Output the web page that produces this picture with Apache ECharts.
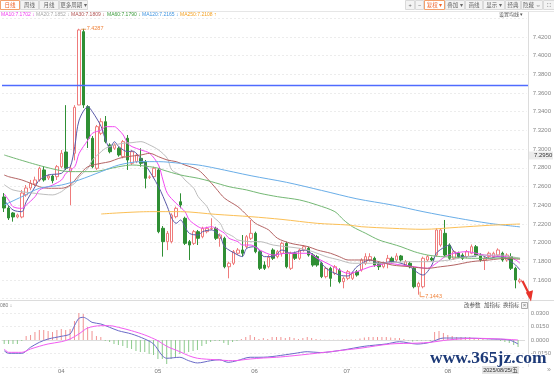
<!DOCTYPE html>
<html><head><meta charset="utf-8">
<script src="https://cdn.jsdelivr.net/npm/echarts@6/dist/echarts.min.js"></script>
<style>html,body{margin:0;padding:0;background:#fff;}#c{width:554px;height:374px;}</style>
</head><body><div id="c"></div>
<script>
// ---- trading days (category axis) ----
const marDays=[13,14,17,18,19,20,21,24,25,26,27,28,31];
const aprDays=[1,2,3,4,7,8,9,10,11,14,15,16,17,18,21,22,23,24,25,28,29,30];
const mayDays=[1,2,5,6,7,8,9,12,13,14,15,16,19,20,21,22,23,26,27,28,29,30];
const junDays=[2,3,4,5,6,9,10,11,12,13,16,17,18,19,20,23,24,25,26,27,30];
const julDays=[1,2,3,4,7,8,9,10,11,14,15,16,17,18,21,22,23,24,25,28,29,30,31];
const augDays=[1,4,5,6,7,8,11,12,13,14,15,18,19,20,21,22,25];

// ---- candles: [open, close, low, high] ----
const candleOHLC=[
[7.2488,7.2370,7.2327,7.2530],[7.2370,7.2263,7.2242,7.2390],[7.2317,7.2274,7.2224,7.2326],[7.2274,7.2295,7.2260,7.2310],[7.2274,7.2530,7.2260,7.2563],
[7.2510,7.2584,7.2490,7.2616],[7.2584,7.2634,7.2560,7.2670],[7.2627,7.2670,7.2605,7.2705],[7.2670,7.2795,7.2652,7.2812],[7.2777,7.2670,7.2652,7.2819],
[7.2691,7.2712,7.2670,7.2730],[7.2712,7.2662,7.2634,7.2723],[7.2705,7.2812,7.2670,7.2830],[7.2812,7.2955,7.2795,7.2990],[7.2969,7.2795,7.2777,7.3470],
[7.2758,7.2795,7.2400,7.2830],[7.2955,7.3447,7.2880,7.3470],[7.3472,7.4274,7.3470,7.4287],[7.4256,7.3472,7.3440,7.4287],[7.3454,7.3116,7.3012,7.3470],
[7.3116,7.2812,7.2795,7.3140],[7.2795,7.3240,7.2777,7.3258],[7.3169,7.3293,7.3150,7.3330],[7.3293,7.3080,7.3062,7.3354],[7.3044,7.2972,7.2955,7.3062],
[7.3009,7.3044,7.2991,7.3062],[7.3009,7.2937,7.2919,7.3026],[7.2919,7.3080,7.2901,7.3097],[7.3116,7.2883,7.2777,7.3151],[7.2848,7.2972,7.2830,7.2990],
[7.2866,7.2937,7.2850,7.2955],[7.2901,7.2848,7.2812,7.3009],[7.2866,7.2688,7.2580,7.2883],[7.2698,7.2702,7.2680,7.2720],[7.2705,7.2795,7.2688,7.2812],
[7.2777,7.2117,7.2100,7.2795],[7.2153,7.2010,7.1850,7.2177],[7.2010,7.2099,7.1920,7.2124],[7.2010,7.2295,7.1992,7.2313],[7.2277,7.2367,7.2260,7.2385],
[7.2437,7.2402,7.2367,7.2527],[7.2260,7.1992,7.1974,7.2277],[7.2010,7.1974,7.1814,7.2028],[7.1992,7.2117,7.1974,7.2135],[7.2117,7.2046,7.1974,7.2135],
[7.2063,7.2153,7.2046,7.2170],[7.2117,7.2153,7.2099,7.2170],[7.2147,7.2151,7.2135,7.2260],[7.2153,7.2046,7.2028,7.2170],[7.2046,7.2081,7.1956,7.2099],
[7.2046,7.1742,7.1725,7.2063],[7.1742,7.1779,7.1618,7.1796],[7.1779,7.1903,7.1760,7.1921],[7.1886,7.1921,7.1868,7.1942],[7.1921,7.1886,7.1850,7.2081],
[7.1956,7.2063,7.1939,7.2081],[7.2046,7.2099,7.2028,7.2242],[7.2099,7.1903,7.1886,7.2117],[7.1903,7.1725,7.1707,7.1921],[7.1760,7.1725,7.1707,7.1800],
[7.1742,7.1843,7.1725,7.1868],[7.1921,7.1832,7.1814,7.1939],[7.1850,7.1903,7.1832,7.1921],[7.1886,7.1992,7.1850,7.2010],[7.1992,7.1742,7.1725,7.2010],
[7.1725,7.1886,7.1707,7.1903],[7.1886,7.1832,7.1814,7.1903],[7.1832,7.1921,7.1814,7.1939],[7.1921,7.1956,7.1903,7.1974],[7.1939,7.1867,7.1850,7.1956],
[7.1867,7.1760,7.1742,7.1886],[7.1850,7.1760,7.1742,7.1868],[7.1779,7.1636,7.1620,7.1796],[7.1636,7.1725,7.1618,7.1742],[7.1725,7.1618,7.1528,7.1742],
[7.1671,7.1742,7.1653,7.1760],[7.1707,7.1582,7.1564,7.1725],[7.1582,7.1618,7.1511,7.1636],[7.1618,7.1689,7.1600,7.1707],[7.1618,7.1671,7.1600,7.1689],
[7.1689,7.1653,7.1636,7.1707],[7.1707,7.1814,7.1689,7.1832],[7.1779,7.1850,7.1760,7.1886],[7.1814,7.1850,7.1796,7.1886],[7.1832,7.1760,7.1742,7.1850],
[7.1779,7.1742,7.1707,7.1796],[7.1742,7.1779,7.1725,7.1796],[7.1779,7.1832,7.1725,7.1868],[7.1832,7.1796,7.1779,7.1850],[7.1814,7.1857,7.1796,7.1886],
[7.1857,7.1814,7.1796,7.1868],[7.1760,7.1796,7.1742,7.1814],[7.1779,7.1742,7.1725,7.1796],[7.1725,7.1528,7.1511,7.1742],[7.1528,7.1564,7.1443,7.1582],
[7.1528,7.1832,7.1511,7.1850],[7.1814,7.1850,7.1796,7.1868],[7.1832,7.1814,7.1800,7.1850],[7.1867,7.2135,7.1850,7.2153],[7.1974,7.2135,7.1956,7.2153],
[7.2099,7.1867,7.1850,7.2242],[7.1974,7.1832,7.1814,7.1992],[7.1832,7.1903,7.1814,7.1921],[7.1886,7.1850,7.1832,7.1903],[7.1867,7.1832,7.1814,7.1886],
[7.1850,7.1903,7.1832,7.1921],[7.1886,7.1956,7.1876,7.1980],[7.1956,7.1867,7.1850,7.1974],[7.1867,7.1814,7.1796,7.1886],[7.1814,7.1832,7.1707,7.1850],
[7.1850,7.1886,7.1832,7.1903],[7.1850,7.1886,7.1832,7.1903],[7.1867,7.1921,7.1850,7.1939],[7.1886,7.1814,7.1796,7.1903],[7.1814,7.1867,7.1796,7.1886],
[7.1850,7.1725,7.1707,7.1886],[7.1725,7.1600,7.1511,7.1742],[7.1582,7.1600,7.1564,7.1618]
];

// ---- moving averages: [dayIndex, value] ----
const ma5Knots=[[0,7.2454],[2,7.2349],[4,7.2331],[5,7.2437],[7,7.2598],[8,7.2670],[10,7.2723],[13,7.2741],[14,7.2795],[15,7.2812],[16,7.3026],[17,7.3311],[19,7.3453],[20,7.3400],[22,7.3240],[23,7.3097],[24,7.3009],[25,7.3079],[26,7.3026],[28,7.2972],[29,7.2980],[32,7.2830],[35,7.2598],[37,7.2384],[38,7.2260],[39,7.2206],[40,7.2242],[41,7.2170],[42,7.2099],[44,7.2081],[45,7.2117],[47,7.2135],[49,7.2063],[50,7.1956],[53,7.1867],[54,7.1850],[55,7.1939],[57,7.1956],[59,7.1850],[61,7.1850],[63,7.1921],[65,7.1886],[68,7.1921],[71,7.1832],[73,7.1725],[76,7.1653],[78,7.1643],[80,7.1742],[83,7.1814],[85,7.1779],[88,7.1796],[90,7.1779],[92,7.1742],[94,7.1671],[95,7.1653],[97,7.1760],[98,7.1886],[100,7.1956],[101,7.1974],[102,7.1903],[104,7.1850],[106,7.1850],[108,7.1867],[110,7.1832],[112,7.1850],[114,7.1830],[115,7.1796],[116,7.1760],[117,7.1707]];
const ma10Knots=[[0,7.2520],[1,7.2456],[2,7.2384],[4,7.2366],[5,7.2402],[7,7.2491],[8,7.2563],[10,7.2598],[11,7.2616],[13,7.2670],[14,7.2741],[16,7.2812],[17,7.2955],[19,7.3097],[20,7.3169],[22,7.3204],[23,7.3240],[25,7.3240],[26,7.3204],[27,7.3151],[28,7.3062],[29,7.3026],[31,7.2991],[33,7.2955],[35,7.2830],[36,7.2670],[37,7.2527],[39,7.2420],[41,7.2331],[42,7.2242],[44,7.2170],[45,7.2153],[47,7.2170],[48,7.2153],[50,7.2099],[51,7.2046],[53,7.2010],[54,7.1974],[56,7.1974],[58,7.1920],[61,7.1867],[64,7.1886],[67,7.1886],[69,7.1886],[71,7.1832],[74,7.1760],[76,7.1707],[78,7.1671],[80,7.1689],[83,7.1742],[85,7.1760],[87,7.1779],[90,7.1760],[93,7.1742],[96,7.1725],[98,7.1779],[100,7.1850],[102,7.1886],[105,7.1903],[107,7.1886],[109,7.1867],[111,7.1857],[114,7.1850],[116,7.1814],[117,7.1779]];
const ma20Knots=[[0,7.2620],[2,7.2563],[7,7.2527],[11,7.2510],[13,7.2545],[14,7.2581],[16,7.2634],[17,7.2705],[19,7.2795],[20,7.2883],[22,7.2972],[23,7.3009],[25,7.3044],[27,7.3062],[29,7.3069],[31,7.3080],[33,7.3044],[35,7.2991],[37,7.2901],[38,7.2777],[40,7.2723],[41,7.2670],[43,7.2581],[44,7.2491],[46,7.2384],[47,7.2295],[49,7.2206],[50,7.2117],[52,7.2063],[53,7.2028],[56,7.2010],[58,7.2010],[61,7.1974],[64,7.1956],[67,7.1939],[70,7.1903],[73,7.1850],[76,7.1814],[79,7.1779],[82,7.1779],[85,7.1779],[88,7.1786],[92,7.1796],[96,7.1796],[101,7.1814],[105,7.1850],[110,7.1867],[113,7.1867],[115,7.1850],[117,7.1832]];
const ma30Knots=[[0,7.2723],[1,7.2705],[4,7.2670],[6,7.2634],[8,7.2598],[10,7.2581],[13,7.2581],[15,7.2616],[17,7.2723],[19,7.2812],[22,7.2848],[24,7.2866],[26,7.2901],[28,7.2920],[31,7.2937],[33,7.2955],[35,7.2919],[37,7.2883],[39,7.2866],[41,7.2830],[44,7.2777],[46,7.2688],[48,7.2581],[50,7.2474],[53,7.2384],[55,7.2295],[57,7.2206],[59,7.2160],[60,7.2135],[62,7.2046],[65,7.1992],[67,7.1974],[69,7.1956],[71,7.1921],[74,7.1886],[76,7.1850],[78,7.1814],[81,7.1814],[83,7.1814],[85,7.1796],[88,7.1760],[92,7.1742],[96,7.1725],[99,7.1742],[102,7.1760],[106,7.1796],[110,7.1814],[114,7.1832],[117,7.1821]];
const ma60Knots=[[0,7.2937],[9,7.2812],[15,7.2759],[20,7.2759],[26,7.2812],[29,7.2830],[33,7.2812],[35,7.2795],[36,7.2777],[40,7.2723],[44,7.2688],[47,7.2652],[51,7.2598],[55,7.2563],[58,7.2527],[62,7.2491],[67,7.2456],[71,7.2402],[75,7.2331],[77,7.2242],[79,7.2170],[82,7.2099],[85,7.2028],[88,7.1985],[90,7.1956],[93,7.1903],[96,7.1867],[99,7.1850],[102,7.1845],[106,7.1832],[110,7.1832],[114,7.1838],[117,7.1832]];
const ma120Knots=[[0,7.2402],[4,7.2491],[8,7.2581],[13,7.2616],[17,7.2670],[22,7.2759],[26,7.2830],[31,7.2866],[35,7.2866],[40,7.2848],[44,7.2830],[48,7.2795],[56,7.2715],[64,7.2645],[72,7.2558],[80,7.2468],[88,7.2402],[95,7.2331],[103,7.2260],[110,7.2206],[117,7.2168]];
const ma250Knots=[[22,7.2306],[33,7.2331],[40,7.2331],[48,7.2302],[56,7.2277],[63,7.2248],[71,7.2206],[78,7.2188],[81,7.2170],[88,7.2153],[95,7.2142],[103,7.2164],[110,7.2185],[117,7.2199]];
const drawnLevel=7.3686;

// ---- MACD ----
const macdHist=[
-0.0044,-0.0044,-0.0044,-0.0044,-0.0011,0.0044,0.0056,0.0089,0.0111,0.0111,
0.0100,0.0089,0.0111,0.0122,0.0111,0.0122,0.0211,0.0300,0.0289,0.0144,
0.0100,0.0044,0.0033,-0.0011,-0.0022,-0.0044,-0.0056,-0.0067,-0.0089,-0.0100,
-0.0122,-0.0133,-0.0133,-0.0156,-0.0167,-0.0211,-0.0211,-0.0267,-0.0211,-0.0189,
-0.0156,-0.0144,-0.0133,-0.0122,-0.0111,-0.0067,-0.0044,-0.0022,-0.0011,-0.0011,
-0.0033,-0.0056,-0.0022,-0.0011,0.0011,0.0033,0.0056,0.0033,0.0011,0.0022,
0.0011,0.0033,0.0033,0.0033,0.0022,0.0033,0.0022,0.0011,0.0022,0.0033,
0.0022,0.0011,0.0006,0.0004,0.0004,0.0004,0.0004,0.0006,0.0006,0.0006,
0.0006,0.0017,0.0028,0.0033,0.0033,0.0033,0.0033,0.0033,0.0028,0.0022,
0.0022,0.0011,-0.0006,-0.0017,-0.0011,-0.0006,-0.0006,-0.0011,0.0089,0.0100,
0.0078,0.0056,0.0044,0.0033,0.0033,0.0033,0.0033,0.0022,0.0011,0.0011,
0.0006,0.0006,0.0006,-0.0011,-0.0022,-0.0033,-0.0056,-0.0078];
const difKnots=[[0,-0.0119],[1,-0.0148],[4,-0.0148],[6,-0.0081],[8,-0.0026],[10,0.0011],[13,0.0041],[15,0.0067],[16,0.0159],[17,0.0240],[18,0.0252],[19,0.0230],[20,0.0196],[22,0.0178],[24,0.0141],[26,0.0103],[29,0.0067],[32,0.0011],[34,-0.0044],[36,-0.0174],[37,-0.0203],[40,-0.0192],[42,-0.0230],[44,-0.0255],[47,-0.0230],[49,-0.0219],[51,-0.0248],[53,-0.0230],[56,-0.0192],[58,-0.0192],[60,-0.0189],[62,-0.0178],[66,-0.0150],[69,-0.0130],[72,-0.0140],[77,-0.0112],[82,-0.0070],[87,-0.0044],[90,-0.0019],[94,-0.0045],[97,-0.0026],[100,0.0022],[103,0.0022],[107,0.0019],[111,0.0011],[115,0.0000],[117,-0.0044]];
const deaKnots=[[0,-0.0100],[1,-0.0137],[4,-0.0137],[6,-0.0100],[8,-0.0070],[10,-0.0044],[13,-0.0019],[15,0.0011],[17,0.0067],[19,0.0133],[22,0.0159],[24,0.0159],[26,0.0141],[29,0.0103],[32,0.0056],[35,-0.0008],[37,-0.0070],[40,-0.0130],[42,-0.0174],[44,-0.0203],[48,-0.0219],[52,-0.0230],[56,-0.0211],[59,-0.0200],[62,-0.0192],[66,-0.0174],[73,-0.0137],[77,-0.0114],[81,-0.0092],[88,-0.0044],[94,-0.0035],[97,-0.0026],[101,0.0000],[107,0.0019],[113,0.0011],[117,0.0000]];

// ---- text ----
const maLegend=[
 {t:'MA10:7.1702 ↓',c:'#f03cf0',x:1},{t:'MA20:7.1852 ↓',c:'#a8a8a8',x:36},{t:'MA30:7.1809 ↓',c:'#b05050',x:71},
 {t:'MA60:7.1790 ↓',c:'#3a9a3a',x:107},{t:'MA120:7.2165 ↓',c:'#3f94e0',x:142},{t:'MA250:7.2108 ↑',c:'#f4a020',x:180}];
const leftTabs=[{t:'日线',x:0,w:19,on:true},{t:'周线',x:20,w:18},{t:'月线',x:39,w:19},{t:'更多周期 ▾',x:59,w:28}];
const rightTools=[{t:'+',x:405,w:9},{t:'−',x:415,w:8},{t:'复权 ▾',x:424,w:20,on:true},{t:'叠加 ▾',x:445,w:19},{t:'画线',x:465,w:17},{t:'显示 ▾',x:483,w:21},{t:'经典',x:505,w:15},{t:'隐藏 ⇔',x:521,w:21},{t:'⛶',x:543,w:11}];
const subTools=[{t:'改参数',x:464},{t:'加指标',x:484},{t:'换指标',x:503}];

const monthsDays=[['03',marDays],['04',aprDays],['05',mayDays],['06',junDays],['07',julDays],['08',augDays]];
const categories=[];const monthStart={};
monthsDays.forEach(([m,ds])=>ds.forEach((d,k)=>{ if(k===0&&m!=='03') monthStart[categories.length]=m; categories.push('2025/'+m+'/'+String(d).padStart(2,'0'));}));
categories.push('');

const FF='"Liberation Sans","Noto Sans CJK SC",sans-serif';
const chart=echarts.init(document.getElementById('c'),null,{renderer:'canvas'});
const maLine=(name,data,color)=>({name,type:'line',xAxisIndex:0,yAxisIndex:0,data,showSymbol:false,smooth:0.3,
  lineStyle:{color,width:1},itemStyle:{color},silent:true,z:3});

const g=[];
// toolbar
leftTabs.forEach(o=>{g.push({type:'rect',shape:{x:o.x+0.5,y:0.5,width:o.w,height:9},style:{fill:o.on?'#fff':'#f3f3f3',stroke:o.on?'#f2a06c':'#dadada',lineWidth:1}});
 g.push({type:'text',x:o.x+0.5+o.w/2,y:5,style:{text:o.t,fill:o.on?'#f0642a':'#666',font:'5.5px '+FF,align:'center',verticalAlign:'middle'}});});
rightTools.forEach(o=>{g.push({type:'rect',shape:{x:o.x+0.5,y:0.5,width:o.w,height:9},style:{fill:o.on?'#fff':'#f3f3f3',stroke:o.on?'#f2a06c':'#dadada',lineWidth:1}});
 g.push({type:'text',x:o.x+0.5+o.w/2,y:5,style:{text:o.t,fill:o.on?'#f0642a':'#666',font:'5.5px '+FF,align:'center',verticalAlign:'middle'}});});
g.push({type:'line',shape:{x1:0,y1:11.5,x2:554,y2:11.5},style:{stroke:'#e6e6e6',lineWidth:1}});
maLegend.forEach(o=>g.push({type:'text',x:o.x,y:15,style:{text:o.t,fill:o.c,font:'5px '+FF,verticalAlign:'middle'}}));
g.push({type:'text',x:499,y:15,style:{text:'设置均线 ▾',fill:'#555',font:'5px '+FF,verticalAlign:'middle'}});
// frame lines
g.push({type:'line',shape:{x1:528.5,y1:12,x2:528.5,y2:367},style:{stroke:'#dcdcdc',lineWidth:1}});
g.push({type:'line',shape:{x1:0,y1:300.5,x2:554,y2:300.5},style:{stroke:'#dcdcdc',lineWidth:1}});
// sub header
g.push({type:'text',x:0,y:305.5,style:{text:'080 ↓',fill:'#7a7a7a',font:'5px '+FF,verticalAlign:'middle'}});
subTools.forEach(o=>g.push({type:'text',x:o.x,y:305.5,style:{text:o.t,fill:'#555',font:'5.5px '+FF,verticalAlign:'middle'}}));
g.push({type:'rect',shape:{x:521.5,y:302.5,width:6,height:6},style:{fill:'#f5f5f5',stroke:'#aaa',lineWidth:1}});
g.push({type:'text',x:524.5,y:305.5,style:{text:'×',fill:'#777',font:'6px '+FF,align:'center',verticalAlign:'middle'}});
// crosshair labels
g.push({type:'rect',shape:{x:529,y:151.5,width:24,height:8},style:{fill:'#ececec'},z:50});
g.push({type:'text',x:534,y:155.5,style:{text:'7.2950',fill:'#333',font:'6px '+FF,verticalAlign:'middle'},z:51});
g.push({type:'rect',shape:{x:482,y:366,width:37,height:8},style:{fill:'#e4e4e4'},z:50});
g.push({type:'text',x:500.5,y:370,style:{text:'2025/08/25/五',fill:'#333',font:'5.5px '+FF,align:'center',verticalAlign:'middle'},z:51});
g.push({type:'text',x:549,y:370,style:{text:'»',fill:'#999',font:'7px '+FF,align:'center',verticalAlign:'middle'},z:51});
// arrow + watermark
g.push({type:'polyline',shape:{points:[[522.5,281],[529,294]]},style:{stroke:'#e8332a',lineWidth:2.2},z:60});
g.push({type:'polygon',shape:{points:[[525.8,292.5],[533,290.3],[531,301.5]]},style:{fill:'#e8332a'},z:60});
g.push({type:'text',x:430,y:367.5,style:{text:'www.365jz.com',fill:'#1d3a78',stroke:'#ffffff',lineWidth:2,font:'bold 17.5px "Liberation Serif",serif',verticalAlign:'bottom'},z:70});

const option={
 animation:false,backgroundColor:'#fff',
 grid:[{left:2,top:18.2,width:526,height:280.5},{left:2,top:313,width:526,height:54}],
 xAxis:[
  {type:'category',gridIndex:0,data:categories,boundaryGap:true,axisLine:{show:false},axisTick:{show:false},axisLabel:{show:false},splitLine:{show:false}},
  {type:'category',gridIndex:1,data:categories,boundaryGap:true,axisLine:{show:true,lineStyle:{color:'#dcdcdc'}},axisTick:{show:false},
   axisLabel:{interval:(i)=>monthStart[i]!==undefined,formatter:(v,i)=>monthStart[i]||'',fontSize:6,color:'#777',margin:1,fontFamily:FF},splitLine:{show:false}}],
 yAxis:[
  {type:'value',gridIndex:0,position:'right',min:7.14,max:7.44,interval:0.02,axisLine:{show:false},axisTick:{show:false},
   axisLabel:{fontSize:6,color:'#888',margin:6,fontFamily:FF,showMinLabel:false,showMaxLabel:false,formatter:v=>v.toFixed(4)},
   splitLine:{show:true,lineStyle:{color:'#ececec',type:[2,2],width:1}}},
  {type:'value',gridIndex:1,position:'right',min:-0.03,max:0.03,interval:0.015,axisLine:{show:false},axisTick:{show:false},
   axisLabel:{fontSize:6,color:'#888',margin:6,fontFamily:FF,showMinLabel:false,formatter:v=>v.toFixed(4)},
   splitLine:{show:true,lineStyle:{color:'#ececec',type:[2,2],width:1}}}],
 series:[
  {name:'K',type:'candlestick',xAxisIndex:0,yAxisIndex:0,data:candleOHLC,barWidth:3,silent:true,
   itemStyle:{color:'#ffffff',color0:'#2f8f34',borderColor:'#ef7b7b',borderColor0:'#2f8f34',borderWidth:1},z:2},
  maLine('MA5',ma5Knots,'#5a5aa8'),
  maLine('MA10',ma10Knots,'#f24af2'),
  maLine('MA20',ma20Knots,'#bdbdbd'),
  maLine('MA30',ma30Knots,'#b46464'),
  maLine('MA60',ma60Knots,'#74b874'),
  maLine('MA120',ma120Knots,'#6aaee8'),
  maLine('MA250',ma250Knots,'#fbbf55'),
  {name:'MACD',type:'bar',xAxisIndex:1,yAxisIndex:1,data:macdHist,barWidth:1,silent:true,
   itemStyle:{color:p=>p.value>=0?'#f19393':'#8cca8c'}},
  {name:'DIF',type:'line',xAxisIndex:1,yAxisIndex:1,data:difKnots,showSymbol:false,smooth:0.3,lineStyle:{color:'#6a6ac8',width:1},silent:true},
  {name:'DEA',type:'line',xAxisIndex:1,yAxisIndex:1,data:deaKnots,showSymbol:false,smooth:0.3,lineStyle:{color:'#f25cf2',width:1},silent:true}
 ],
 graphic:{elements:g}
};
chart.setOption(option);

// annotations placed from the data through the axes
let hi=0,lo=0;
candleOHLC.forEach((d,i)=>{ if(d[3]>candleOHLC[hi][3]) hi=i; if(d[2]<candleOHLC[lo][2]) lo=i; });
const pH=chart.convertToPixel({gridIndex:0},[hi,candleOHLC[hi][3]]);
const pL=chart.convertToPixel({gridIndex:0},[lo,candleOHLC[lo][2]]);
const yLevel=Math.round(chart.convertToPixel({yAxisIndex:0},drawnLevel));
g.push({type:'rect',shape:{x:2,y:yLevel-0.25,width:526,height:1.5},style:{fill:'#4f6bff'},z:5});
const oc='#f0843c';
g.push({type:'polyline',shape:{points:[[pH[0]+2,pH[1]+0.5],[pH[0]+7,pH[1]+0.5]]},style:{stroke:oc,lineWidth:0.8},z:40});
g.push({type:'text',x:pH[0]+7.5,y:pH[1],style:{text:candleOHLC[hi][3].toFixed(4),fill:oc,font:'5.5px '+FF,verticalAlign:'middle'},z:40});
g.push({type:'polyline',shape:{points:[[pL[0]+1.5,pL[1]-3],[pL[0]+1.5,pL[1]+2],[pL[0]+6,pL[1]+2]]},style:{stroke:oc,lineWidth:0.8},z:40});
g.push({type:'text',x:pL[0]+6.5,y:pL[1]+2,style:{text:candleOHLC[lo][2].toFixed(4),fill:oc,font:'5.5px '+FF,verticalAlign:'middle'},z:40});
chart.setOption({graphic:{elements:g}},{replaceMerge:['graphic']});
</script></body></html>
